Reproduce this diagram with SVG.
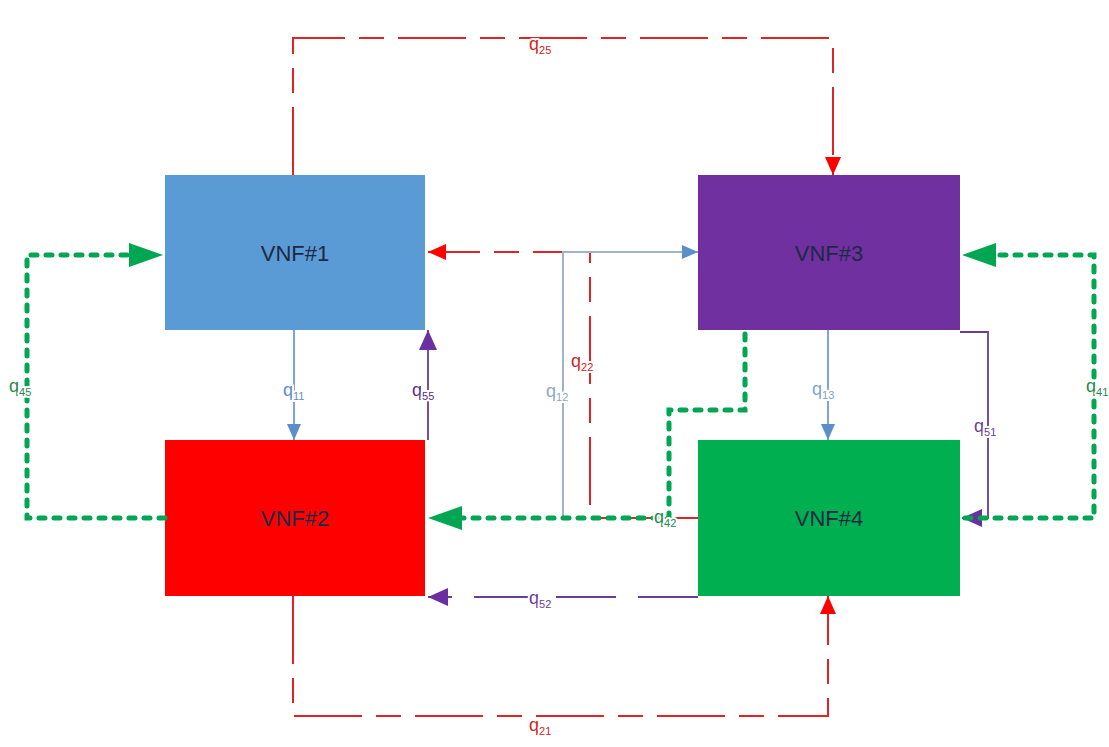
<svg xmlns="http://www.w3.org/2000/svg" width="1109" height="747" viewBox="0 0 1109 747">
<style>
.node text{font-family:"Liberation Sans",Arial,sans-serif;font-size:22px;fill:#1b2a44;text-anchor:middle;dominant-baseline:central}
.ln{fill:none}
.red{stroke:#e02424;stroke-width:2;stroke-dasharray:68 14 25 14}
.grn{stroke:#00a651;stroke-width:5;stroke-linecap:round;stroke-dasharray:6 9}
.blu{stroke:#5b8fc9;stroke-width:1.6}
.lblu{stroke:#9fb3ca;stroke-width:2}
.pur{stroke:#6a3c96;stroke-width:1.8}
.pdash{stroke:#6a3c96;stroke-width:1.8;stroke-dasharray:60 22}
.lbl{font-family:"Liberation Sans",Arial,sans-serif;font-size:18px;stroke:#fff;stroke-width:4;paint-order:stroke;stroke-linejoin:round}
.lbl tspan.s{font-size:11px}
</style>
<defs>
<marker id="aR" markerUnits="userSpaceOnUse" markerWidth="20" markerHeight="18" refX="18" refY="8" orient="auto"><path d="M0,0 L18,8 L0,16 z" fill="#ff0000"/></marker>
<marker id="aG" markerUnits="userSpaceOnUse" markerWidth="36" markerHeight="26" refX="34" refY="12" orient="auto"><path d="M0,0 L34,12 L0,24 z" fill="#00a651"/></marker>
<marker id="aB" markerUnits="userSpaceOnUse" markerWidth="18" markerHeight="16" refX="16" refY="7" orient="auto"><path d="M0,0 L16,7 L0,14 z" fill="#5b8fc9"/></marker>
<marker id="aP" markerUnits="userSpaceOnUse" markerWidth="22" markerHeight="20" refX="20" refY="9" orient="auto"><path d="M0,0 L20,9 L0,18 z" fill="#6a2fa0"/></marker>
</defs>
<rect width="1109" height="747" fill="#fff"/>
<g id="nodes">
<g id="vnf1" class="node"><rect x="165" y="175" width="260" height="155" fill="#5b9bd5"/><text x="295" y="253">VNF#1</text></g>
<g id="vnf2" class="node"><rect x="165" y="440" width="260" height="156" fill="#ff0000"/><text x="295" y="518">VNF#2</text></g>
<g id="vnf3" class="node"><rect x="698" y="175" width="262" height="155" fill="#7030a0"/><text x="829" y="253">VNF#3</text></g>
<g id="vnf4" class="node"><rect x="698" y="440" width="262" height="156" fill="#00b050"/><text x="829" y="518">VNF#4</text></g>
</g>
<g id="connectors">
<path class="ln red" d="M293,175 V38 H833 V175" marker-end="url(#aR)"/>
<path class="ln red" d="M293,596 V716 H828 V596" marker-end="url(#aR)"/>
<path class="ln red" d="M698,518 H590 V252 H428" marker-end="url(#aR)"/>
<path class="ln lblu" d="M563,518 V252 H698" marker-end="url(#aB)"/>
<path class="ln blu" d="M294,330 V440" marker-end="url(#aB)"/>
<path class="ln blu" d="M828,330 V440" marker-end="url(#aB)"/>
<path class="ln pur" d="M428,440 V330" marker-end="url(#aP)"/>
<path class="ln pur" d="M960,332 H988 V518 H962" marker-end="url(#aP)"/>
<path class="ln pdash" d="M698,597 H428" marker-end="url(#aP)"/>
<path class="ln grn" d="M165,518 H27 V255 H140"/>
<path class="ln" stroke="none" d="M140,255 H163" marker-end="url(#aG)"/>
<path class="ln grn" d="M965,518 H1094 V255 H985"/>
<path class="ln" stroke="none" d="M985,255 H962" marker-end="url(#aG)"/>
<path class="ln grn" d="M745,334 V410 H669 V518 H450"/>
<path class="ln" stroke="none" d="M450,518 H428" marker-end="url(#aG)"/>
</g>
<g id="labels">
<text class="lbl" x="529" y="50" fill="#d42020">q<tspan class="s" dy="4">25</tspan></text>
<text class="lbl" x="529" y="731" fill="#d42020">q<tspan class="s" dy="4">21</tspan></text>
<text class="lbl" x="9" y="392" fill="#1f8a4c">q<tspan class="s" dy="4">45</tspan></text>
<text class="lbl" x="1086" y="392" fill="#1f8a4c">q<tspan class="s" dy="4">41</tspan></text>
<text class="lbl" x="283" y="396" fill="#5b8fc9">q<tspan class="s" dy="4">11</tspan></text>
<text class="lbl" x="412" y="396" fill="#5a2e86">q<tspan class="s" dy="4">55</tspan></text>
<text class="lbl" x="571" y="367" fill="#d42020">q<tspan class="s" dy="4">22</tspan></text>
<text class="lbl" x="546" y="397" fill="#8ea6c2">q<tspan class="s" dy="4">12</tspan></text>
<text class="lbl" x="654" y="523" fill="#1f8a4c">q<tspan class="s" dy="4">42</tspan></text>
<text class="lbl" x="812" y="395" fill="#7fa3cc">q<tspan class="s" dy="4">13</tspan></text>
<text class="lbl" x="974" y="432" fill="#6a3c96">q<tspan class="s" dy="4">51</tspan></text>
<text class="lbl" x="529" y="604" fill="#6a3c96">q<tspan class="s" dy="4">52</tspan></text>
</g>
</svg>
